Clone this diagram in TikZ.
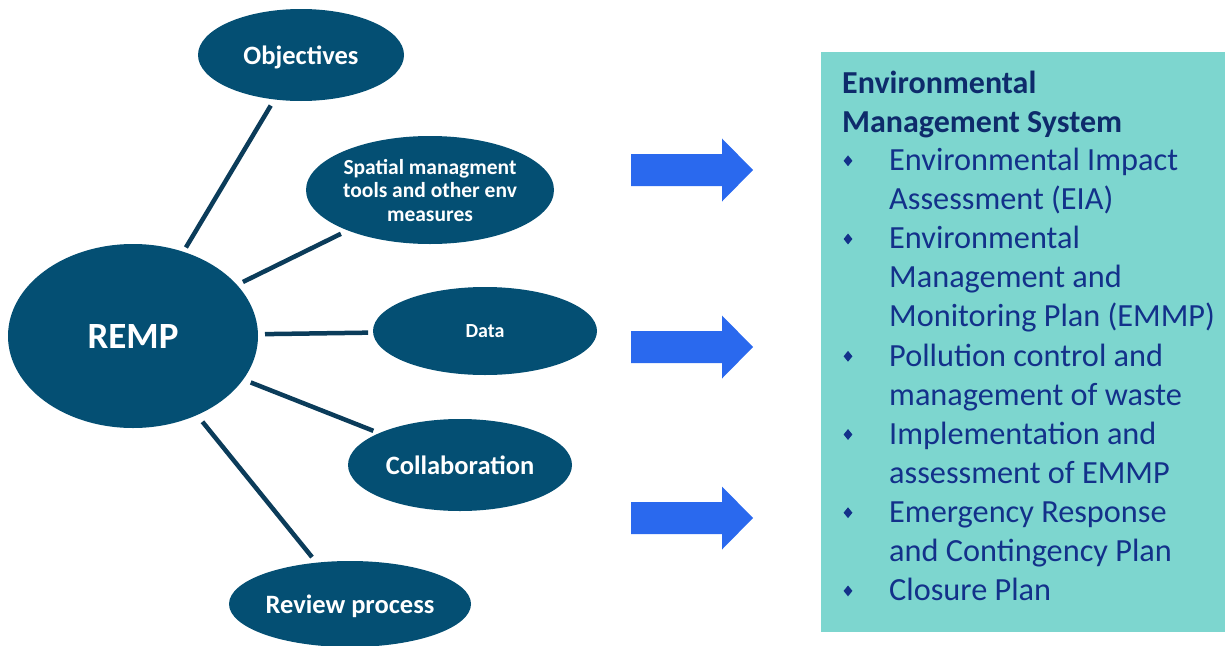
\documentclass[tikz,border=0pt]{standalone}
\usepackage{fontspec}
\setmainfont{Carlito}
\usetikzlibrary{shapes.geometric,calc}

\definecolor{bubblefill}{HTML}{044F73}
\definecolor{spokeline}{HTML}{0B3C5A}
\definecolor{flowblue}{HTML}{2A69EE}
\definecolor{panelteal}{HTML}{7DD6CF}
\definecolor{inkblue}{HTML}{13318A}
\definecolor{headblue}{HTML}{0E2B6B}

\begin{document}
\begin{tikzpicture}[x=1pt,y=-1pt,
  bubble/.style={ellipse, fill=bubblefill, inner sep=0pt, text=white, align=center, text depth=0pt},
  spoke/.style={draw=spokeline, line width=4.5pt},
  flowarrow/.style={fill=flowblue},
  headline/.style={anchor=base west, inner sep=0pt, text=headblue, font=\bfseries\fontsize{32}{39}\selectfont},
  itemline/.style={anchor=base west, inner sep=0pt, text=inkblue, font=\fontsize{32.3}{39}\selectfont},
  bulletmark/.style={diamond, fill=inkblue, inner sep=0pt, minimum width=9pt, minimum height=11pt}
]
\useasboundingbox (0,0) rectangle (1225,645);

% central topic and its satellites
\node[bubble, minimum width=250pt, minimum height=184pt, font=\bfseries\fontsize{37}{44}\selectfont] (remp) at (133,336) {REMP};
\node[bubble, minimum width=206pt, minimum height=92pt, font=\bfseries\fontsize{26.5}{30}\selectfont] (obj) at (301,55) {Objectives};
\node[bubble, minimum width=248pt, minimum height=108pt, font=\bfseries\fontsize{21.5}{23.5}\selectfont] (spat) at (430,190) {Spatial managment\\tools and other env\\measures};
\node[bubble, minimum width=224pt, minimum height=88pt, font=\bfseries\fontsize{20}{24}\selectfont] (data) at (485,331) {Data};
\node[bubble, minimum width=224pt, minimum height=92pt, font=\bfseries\fontsize{26.5}{30}\selectfont] (collab) at (460,465) {Collaboration};
\node[bubble, minimum width=242pt, minimum height=86pt, font=\bfseries\fontsize{26.5}{30}\selectfont] (review) at (350,604) {Review process};

% spokes, detached from both ends
\draw[spoke] ($(remp)!0.315!(obj)$) -- ($(remp)!0.82!(obj)$);
\draw[spoke] ($(remp)!0.37!(spat)$) -- ($(remp)!0.70!(spat)$);
\draw[spoke] ($(remp)!0.375!(data)$) -- ($(remp)!0.668!(data)$);
\draw[spoke] ($(remp)!0.36!(collab)$) -- ($(remp)!0.735!(collab)$);
\draw[spoke] ($(remp)!0.32!(review)$) -- ($(remp)!0.825!(review)$);

% block arrows
\foreach \ay in {170,347,518}
  \fill[flowarrow] (631,\ay-16) -- (722,\ay-16) -- (722,\ay-31.5) -- (753,\ay)
    -- (722,\ay+31.5) -- (722,\ay+16) -- (631,\ay+16) -- cycle;

% system panel
\fill[panelteal] (821,52) rectangle (1225,632);

\foreach \txt [count=\i] in {Environmental, Management System}
  \node[headline] (head\i) at (842,{93+39.1*(\i-1)}) {\txt};

\foreach \txt [count=\i] in {
    Environmental Impact,
    Assessment (EIA),
    Environmental,
    Management and,
    Monitoring Plan (EMMP),
    Pollution control and,
    management of waste,
    Implementation and,
    assessment of EMMP,
    Emergency Response,
    and Contingency Plan,
    Closure Plan}
  \node[itemline] (line\i) at (889,{170.5+39.1*(\i-1)}) {\txt};

\foreach \k in {1,3,6,8,10,12}
  \node[bulletmark] (mark\k) at (848,{170.5+39.1*(\k-1)-9.7}) {};

\end{tikzpicture}
\end{document}
